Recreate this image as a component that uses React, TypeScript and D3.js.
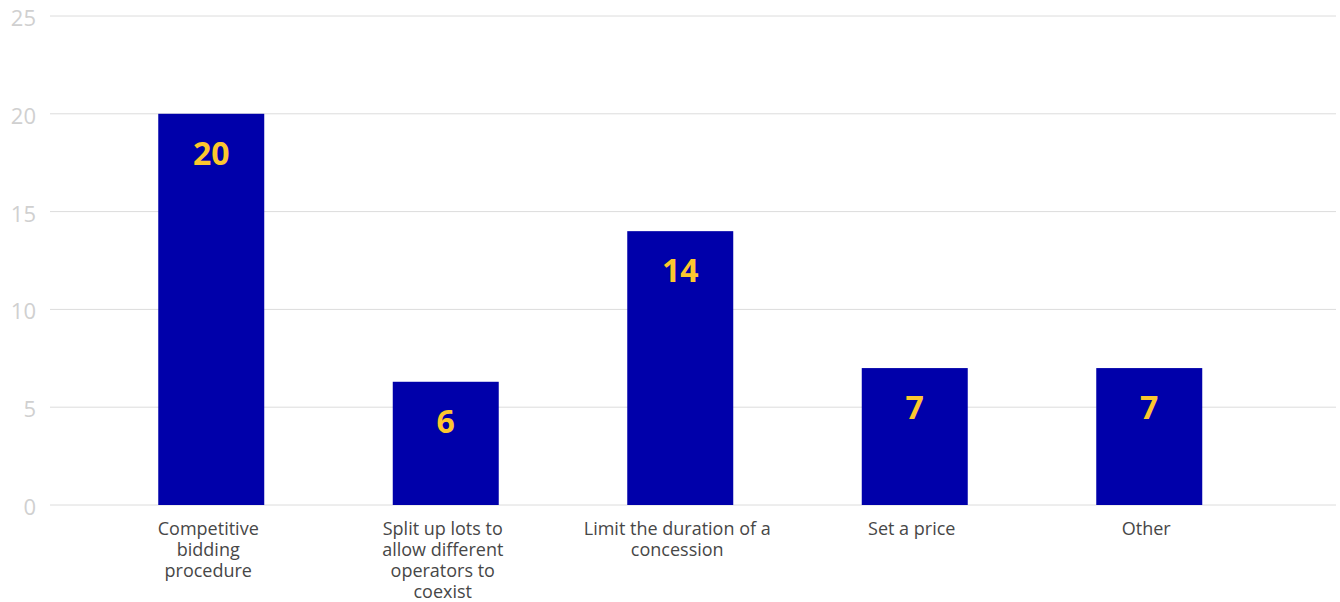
import React from "react";
import * as d3 from "d3";

const categories: string[][] = [
  ["Competitive", "bidding", "procedure"],
  ["Split up lots to", "allow different", "operators to", "coexist"],
  ["Limit the duration of a", "concession"],
  ["Set a price"],
  ["Other"],
];
const values: number[] = [20, 6.3, 14, 7, 7];
const yTicks: number[] = [0, 5, 10, 15, 20, 25];

const W = 1340;
const H = 602;

export default function App() {
  const x = d3
    .scaleBand<number>()
    .domain(values.map((_, i) => i))
    .range([94, 1266.5])
    .paddingInner(0.548)
    .paddingOuter(0.274);
  const y = d3.scaleLinear().domain([0, 25]).range([505, 16]);
  const fmt = d3.format(".0f");

  return (
    <svg
      width={W}
      height={H}
      style={{ position: "absolute", left: 0, top: 0, display: "block" }}
    >
      <rect width={W} height={H} fill="#ffffff" />
      {yTicks.map((t) => (
        <g key={t}>
          <line x1={50} x2={1336} y1={y(t)} y2={y(t)} stroke="#dcdcdc" strokeWidth={1} />
          <text
            x={36}
            y={y(t) + 10}
            textAnchor="end"
            fontFamily="'Open Sans', sans-serif"
            fontWeight={400}
            fontSize={22}
            fill="#d0d0d0"
          >
            {t}
          </text>
        </g>
      ))}
      {values.map((v, i) => {
        const bx = x(i)!;
        const by = y(v);
        return (
          <g key={i}>
            <rect x={bx} y={by} width={x.bandwidth()} height={y(0) - by} fill="#0000aa" />
            <text
              x={bx + x.bandwidth() / 2}
              y={by + 51}
              textAnchor="middle"
              fontFamily="'Open Sans', sans-serif"
              fontWeight={700}
              fontSize={32}
              fill="#fcc72e"
            >
              {fmt(v)}
            </text>
            <text
              textAnchor="middle"
              fontFamily="'Open Sans', sans-serif"
              fontSize={18}
              fill="#474747"
            >
              {categories[i].map((line, j) => (
                <tspan key={j} x={bx + x.bandwidth() / 2 - 3} y={535 + j * 21}>
                  {line}
                </tspan>
              ))}
            </text>
          </g>
        );
      })}
    </svg>
  );
}
